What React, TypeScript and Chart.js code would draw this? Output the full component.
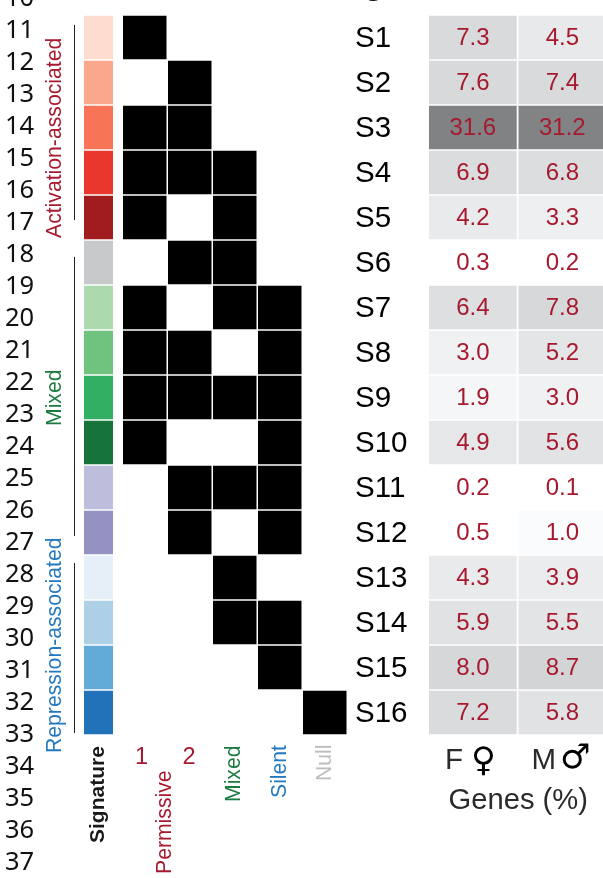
import React, { useEffect, useRef } from "react";
import { Chart, registerables } from "chart.js";

Chart.register(...registerables);

const signatures = ["S1","S2","S3","S4","S5","S6","S7","S8","S9","S10","S11","S12","S13","S14","S15","S16"];
const signatureColors = ["#FDDDCF","#FBA78B","#F77457","#E9372D","#A01C1F","#C8C9CB","#ADD9AE","#70C37F","#32AF62","#16733A","#BDBEDC","#9492C3","#E6EEF7","#AED0E7","#62ABD9","#2272B9"];
const permissive1 = [1,0,1,1,1,0,1,1,1,1,0,0,0,0,0,0];
const permissive2 = [0,1,1,1,0,1,0,1,1,0,1,1,0,0,0,0];
const mixedState  = [0,0,0,1,1,1,1,0,1,0,1,0,1,1,0,0];
const silentState = [0,0,0,0,0,0,1,1,1,1,1,1,0,1,1,0];
const nullState   = [0,0,0,0,0,0,0,0,0,0,0,0,0,0,0,1];
const genesFemale = [7.3,7.6,31.6,6.9,4.2,0.3,6.4,3.0,1.9,4.9,0.2,0.5,4.3,5.9,8.0,7.2];
const genesMale   = [4.5,7.4,31.2,6.8,3.3,0.2,7.8,5.2,3.0,5.6,0.1,1.0,3.9,5.5,8.7,5.8];
const lineNumbers = ["10","11","12","13","14","15","16","17","18","19","20","21","22","23","24","25","26","27","28","29","30","31","32","33","34","35","36","37"];

const RED = "#A6192E";
const GREEN = "#1A7A40";
const BLUE = "#2478BE";
const GREY = "#BCBDC0";
const SANS = '"Liberation Sans", Arial, sans-serif';

function heatColor(v: number) {
  let g = 255;
  if (v > 0.6) {
    g = v <= 8 ? 255 - (v <= 1 ? 5 : 5 + (v - 1) * 5.2) : 214 - ((v - 8) * 85) / 23.6;
  }
  g = Math.round(g);
  return `rgb(${g},${g + 1},${Math.min(255, g + 2)})`;
}

function vText(ctx: CanvasRenderingContext2D, s: string, x: number, y: number, font: string, color: string) {
  ctx.save();
  ctx.translate(x, y);
  ctx.rotate(-Math.PI / 2);
  ctx.font = font;
  ctx.fillStyle = color;
  ctx.textAlign = "left";
  ctx.textBaseline = "middle";
  ctx.fillText(s, 0, 0);
  ctx.restore();
}

const leftDecor = {
  id: "leftDecor",
  afterDraw(chart: any) {
    const ctx = chart.ctx as CanvasRenderingContext2D;
    ctx.save();
    ctx.font = '25.5px "Noto Sans", sans-serif';
    ctx.fillStyle = "#111";
    ctx.textAlign = "left";
    ctx.textBaseline = "middle";
    lineNumbers.forEach((n, i) => ctx.fillText(n, 5, -1 + i * 32));
    ctx.strokeStyle = "#222";
    ctx.lineWidth = 1;
    [[25, 220], [257, 536], [563, 733]].forEach(([a, b]) => {
      ctx.beginPath();
      ctx.moveTo(74.5, a);
      ctx.lineTo(74.5, b);
      ctx.stroke();
    });
    ctx.restore();
    const f = `21.2px ${SANS}`;
    vText(ctx, "Activation-associated", 55, 238, f, RED);
    vText(ctx, "Mixed", 55, 426, f, GREEN);
    vText(ctx, "Repression-associated", 55, 753, f, BLUE);
    vText(ctx, "Signature", 98, 843, `bold 21px ${SANS}`, "#1a1a1a");
    vText(ctx, "Permissive", 165, 874, f, RED);
    vText(ctx, "Mixed", 234, 802, f, GREEN);
    vText(ctx, "Silent", 280, 798, f, BLUE);
    vText(ctx, "Null", 325, 781, f, GREY);
    ctx.save();
    ctx.font = `23.5px ${SANS}`;
    ctx.textAlign = "center";
    ctx.textBaseline = "middle";
    ctx.fillStyle = RED;
    ctx.fillText("1", 141.5, 758);
    ctx.fillText("2", 189, 758);
    ctx.restore();
  },
};

const rightDecor = {
  id: "rightDecor",
  afterDraw(chart: any) {
    const ctx = chart.ctx as CanvasRenderingContext2D;
    const ox = chart.canvas.offsetLeft;
    ctx.save();
    ctx.textBaseline = "middle";
    ctx.textAlign = "center";
    ctx.font = `24px ${SANS}`;
    ctx.fillStyle = RED;
    const vals = [genesFemale, genesMale];
    vals.forEach((arr, d) => {
      const meta = chart.getDatasetMeta(d);
      arr.forEach((v, i) => {
        const c = meta.data[i].getCenterPoint();
        ctx.fillText(v.toFixed(1), c.x, c.y + 1);
      });
    });
    ctx.textAlign = "left";
    ctx.fillStyle = "#000";
    ctx.font = `28px ${SANS}`;
    ctx.fillText("S", 364 - ox, -7);
    ctx.fillStyle = "#2b2b2b";
    ctx.font = `29.5px ${SANS}`;
    ctx.fillText("F", 445 - ox, 761);
    ctx.fillText("M", 531.5 - ox, 761);
    ctx.fillStyle = "#000";
    ctx.font = '34px "DejaVu Sans", sans-serif';
    ctx.fillText("\u2640", 471 - ox, 762);
    ctx.fillText("\u2642", 560 - ox, 759);
    ctx.fillStyle = "#2b2b2b";
    ctx.font = `29.2px ${SANS}`;
    ctx.fillText("Genes (%)", 448.5 - ox, 801);
    ctx.restore();
  },
};

const COL_PITCH = 45;
const COL_START = 123;
const CELL = 43.5;

function span(a: number, b: number) {
  return [a, b] as [number, number];
}

function stateDataset(values: number[], col: number) {
  const x0 = COL_START + col * COL_PITCH;
  return {
    label: `state ${col}`,
    data: values.map((m) => (m ? span(x0, x0 + CELL) : null)),
    backgroundColor: "#000",
    borderWidth: 0,
  };
}

export default function App() {
  const leftRef = useRef<HTMLCanvasElement>(null);
  const rightRef = useRef<HTMLCanvasElement>(null);

  useEffect(() => {
    const common = {
      indexAxis: "y" as const,
      responsive: false,
      animation: false as const,
      devicePixelRatio: 1,
      plugins: { legend: { display: false }, tooltip: { enabled: false }, title: { display: false } },
    };
    const left = new Chart(leftRef.current!, {
      type: "bar",
      data: {
        labels: signatures,
        datasets: [
          {
            label: "Signature",
            data: signatures.map(() => span(84, 113)),
            backgroundColor: signatureColors,
            borderWidth: 0,
          },
          stateDataset(permissive1, 0),
          stateDataset(permissive2, 1),
          stateDataset(mixedState, 2),
          stateDataset(silentState, 3),
          stateDataset(nullState, 4),
        ] as any,
      },
      options: {
        ...common,
        layout: { padding: { top: 15, bottom: 143, left: 0, right: 0 } },
        datasets: { bar: { grouped: false, categoryPercentage: 1, barPercentage: CELL / COL_PITCH } },
        scales: {
          x: { type: "linear", min: 0, max: 355, display: false },
          y: { type: "category", display: false, offset: true },
        },
      } as any,
      plugins: [leftDecor],
    });
    const right = new Chart(rightRef.current!, {
      type: "bar",
      data: {
        labels: signatures,
        datasets: [
          { label: "F", data: genesFemale.map(() => span(0, 0.98)), backgroundColor: genesFemale.map(heatColor), borderWidth: 0 },
          { label: "M", data: genesMale.map(() => span(1, 1.98)), backgroundColor: genesMale.map(heatColor), borderWidth: 0 },
        ] as any,
      },
      options: {
        ...common,
        layout: { padding: { top: 15, bottom: 143, left: 0, right: 0 } },
        datasets: { bar: { grouped: false, categoryPercentage: 1, barPercentage: CELL / COL_PITCH } },
        scales: {
          x: { type: "linear", min: 0, max: 174 / 89.5, display: false },
          y: {
            type: "category",
            offset: true,
            grid: { display: false },
            border: { display: false },
            afterFit(scale: any) {
              scale.width = 74;
            },
            ticks: {
              crossAlign: "far",
              padding: 0,
              labelOffset: 1.5,
              color: "#000",
              font: { family: SANS, size: 29.5, lineHeight: 1 },
            },
          },
        },
      } as any,
      plugins: [rightDecor],
    });
    return () => {
      left.destroy();
      right.destroy();
    };
  }, []);

  return (
    <div style={{ position: "absolute", left: 0, top: 0, width: 603, height: 878, overflow: "hidden", background: "#fff" }}>
      <canvas ref={leftRef} width={355} height={878} style={{ position: "absolute", left: 0, top: 0 }} />
      <canvas ref={rightRef} width={248} height={878} style={{ position: "absolute", left: 355, top: 0 }} />
    </div>
  );
}
